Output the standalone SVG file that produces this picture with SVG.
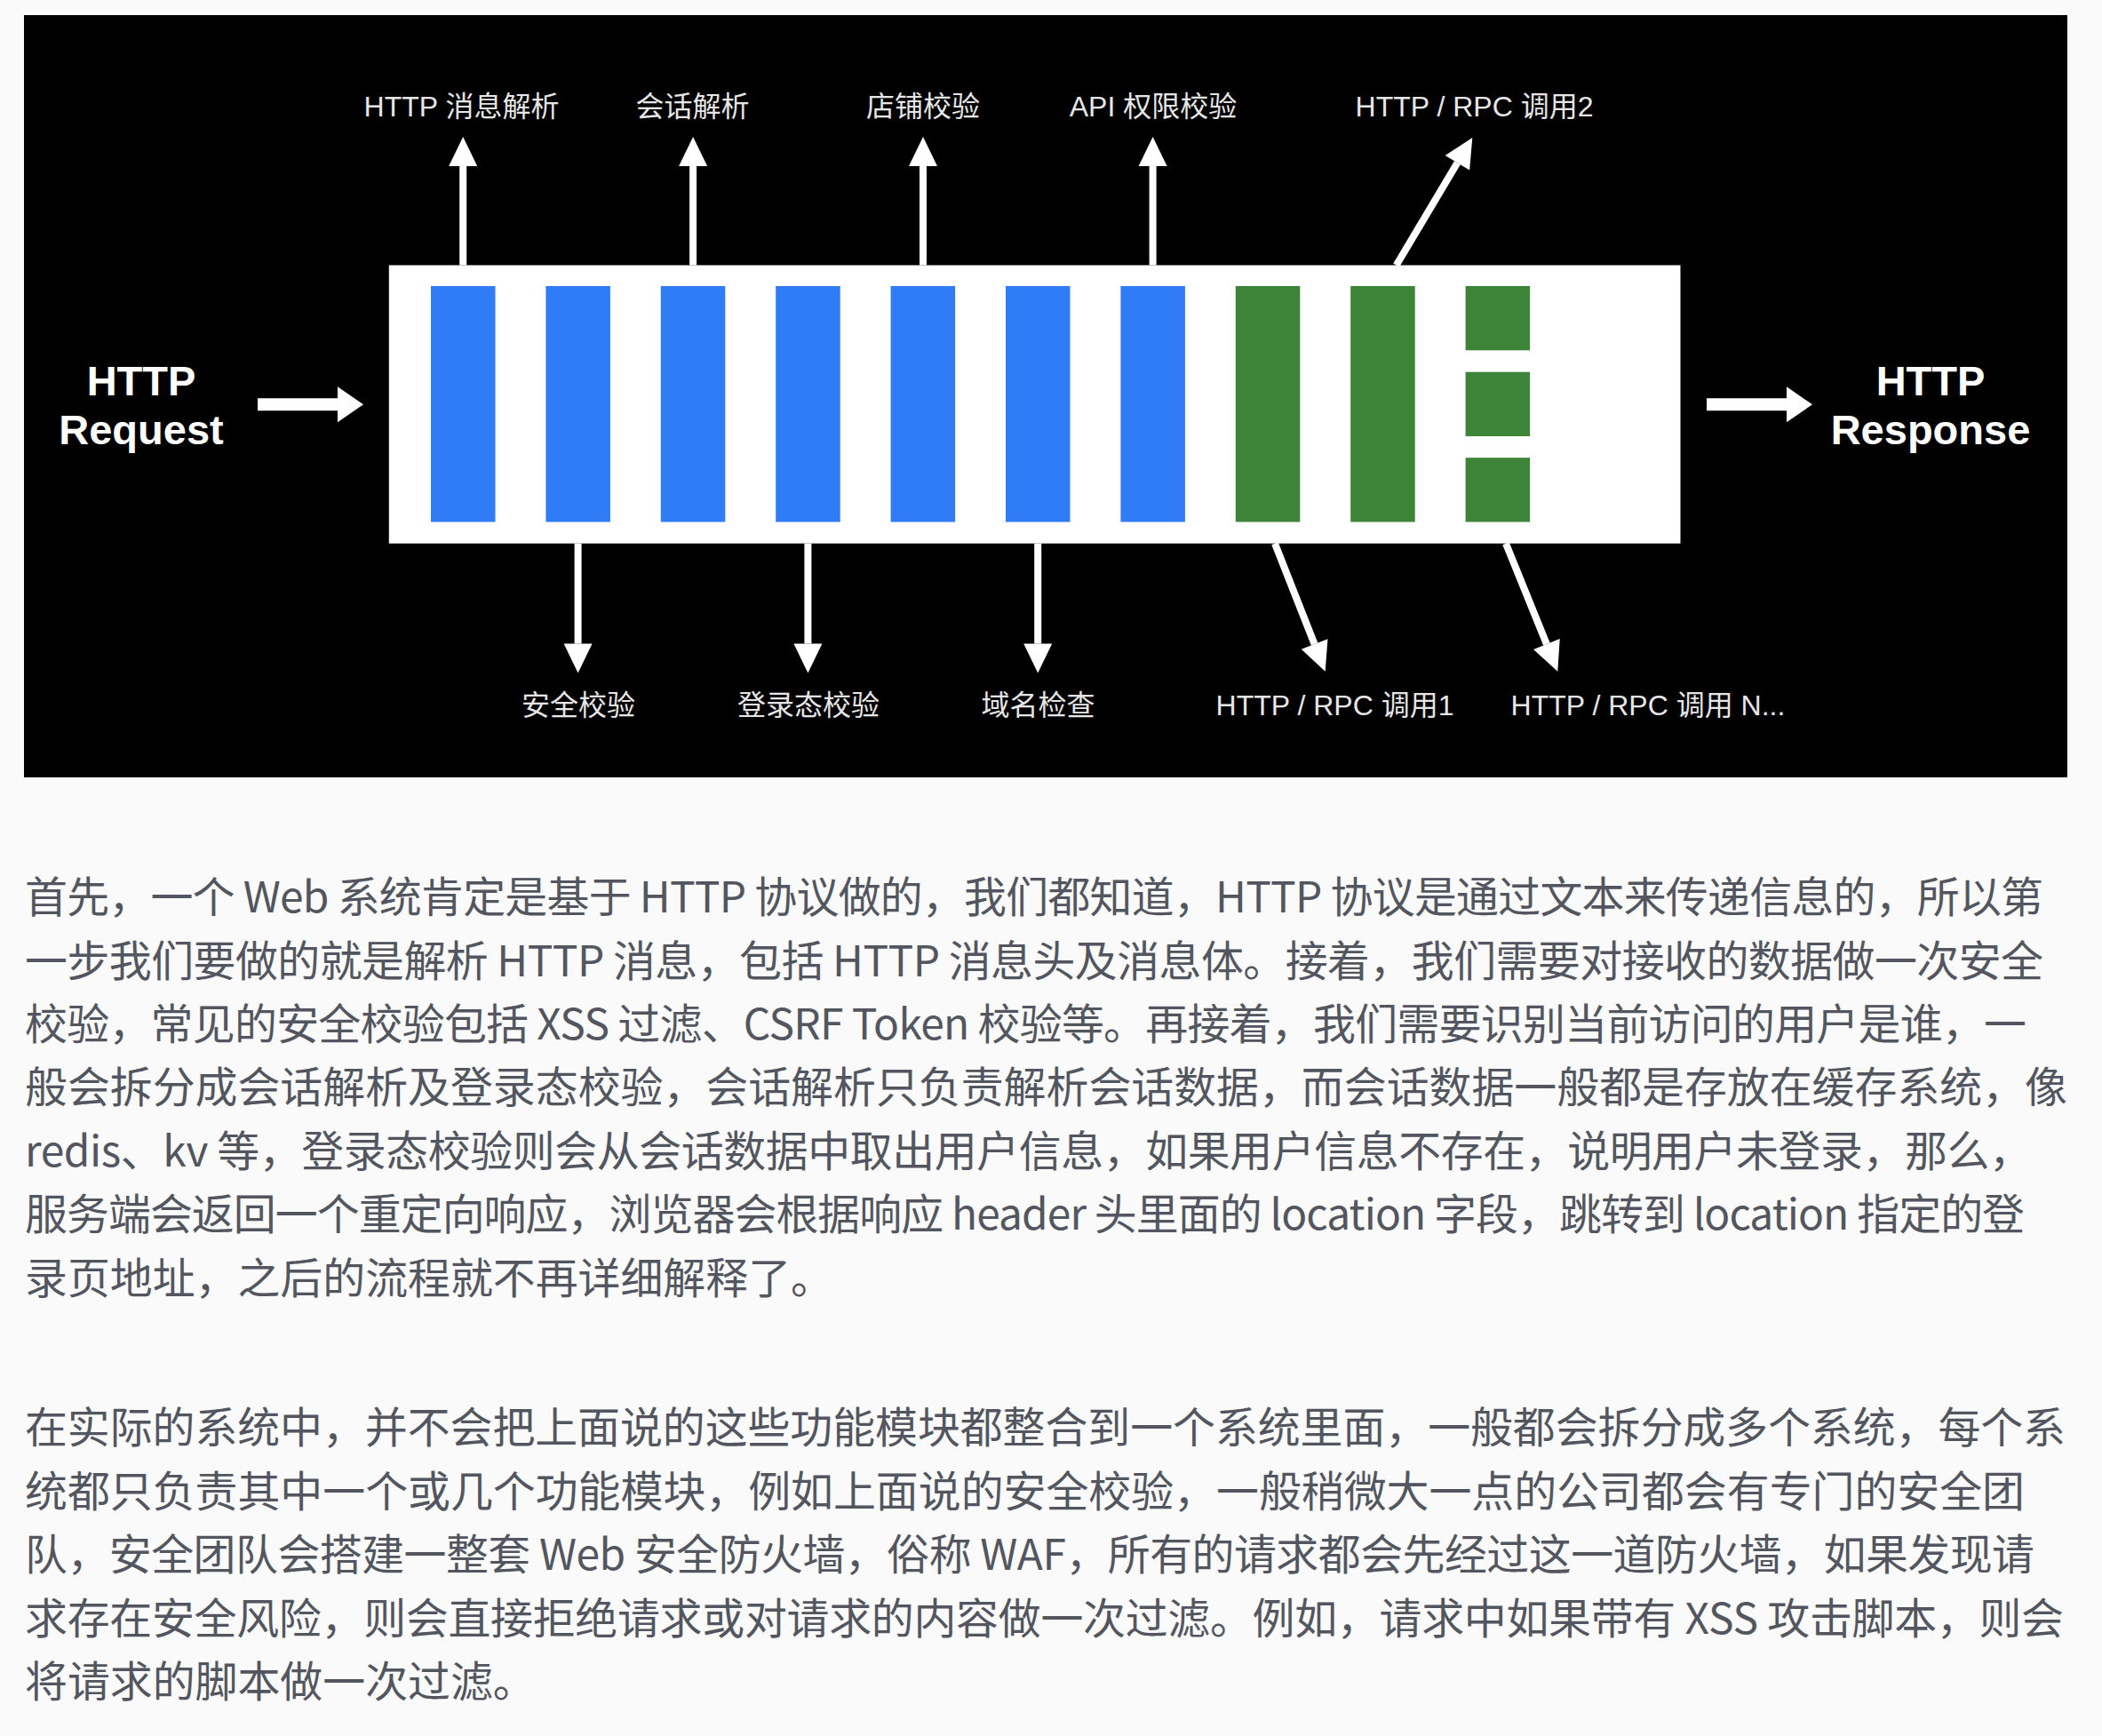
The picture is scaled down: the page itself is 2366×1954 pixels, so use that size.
<svg xmlns="http://www.w3.org/2000/svg" width="2366" height="1954" viewBox="0 0 2366 1954">
<defs>
<style>
.lbl{font-family:"Liberation Sans","Noto Sans CJK SC",sans-serif;font-size:32px;fill:#e6e6e6;text-anchor:middle}
.big{font-family:"Liberation Sans","Noto Sans CJK SC",sans-serif;font-size:47px;font-weight:bold;fill:#ffffff;text-anchor:middle}
.blue{fill:#2f7cf6}
.green{fill:#3d8439}
.thin{stroke:#ffffff;stroke-width:8;fill:none;marker-end:url(#ah)}
.thick{stroke:#ffffff;stroke-width:14;fill:none;marker-end:url(#ahb)}
.p{font-family:"Noto Sans CJK SC","Noto Sans",sans-serif;font-size:47.9px;fill:#53565f}
</style>
<marker id="ah" markerUnits="userSpaceOnUse" markerWidth="36" markerHeight="36" viewBox="0 -18 36 36" refX="0" refY="0" orient="auto" overflow="visible"><path d="M0,-16 L33,0 L0,16 z" fill="#ffffff"/></marker>
<marker id="ahb" markerUnits="userSpaceOnUse" markerWidth="32" markerHeight="44" viewBox="0 -22 32 44" refX="1" refY="0" orient="auto" overflow="visible"><path d="M0,-20 L29,0 L0,20 z" fill="#ffffff"/></marker>
</defs>
<rect width="2366" height="1954" fill="#fafafa"/>
<g id="frame"><rect x="27" y="17" width="2300" height="858" fill="#000000"/></g>
<g id="pipeline"><rect x="437.8" y="298.5" width="1453.7" height="313.2" fill="#ffffff"/></g>
<g id="stage-1"><rect class="blue" x="485" y="322" width="72.5" height="265.5"/></g>
<g id="stage-2"><rect class="blue" x="614.4" y="322" width="72.5" height="265.5"/></g>
<g id="stage-3"><rect class="blue" x="743.8" y="322" width="72.5" height="265.5"/></g>
<g id="stage-4"><rect class="blue" x="873.2" y="322" width="72.5" height="265.5"/></g>
<g id="stage-5"><rect class="blue" x="1002.6" y="322" width="72.5" height="265.5"/></g>
<g id="stage-6"><rect class="blue" x="1132" y="322" width="72.5" height="265.5"/></g>
<g id="stage-7"><rect class="blue" x="1261.4" y="322" width="72.5" height="265.5"/></g>
<g id="stage-8"><rect class="green" x="1390.8" y="322" width="72.5" height="265.5"/></g>
<g id="stage-9"><rect class="green" x="1520.2" y="322" width="72.5" height="265.5"/></g>
<g id="stage-10">
<rect class="green" x="1649.6" y="322" width="72.5" height="72.3"/>
<rect class="green" x="1649.6" y="418.7" width="72.5" height="72.3"/>
<rect class="green" x="1649.6" y="515.2" width="72.5" height="72.3"/>
</g>
<g id="node-request"><text class="big" x="159" y="445">HTTP</text><text class="big" x="159" y="500">Request</text></g>
<g id="node-response"><text class="big" x="2173" y="445">HTTP</text><text class="big" x="2173" y="500">Response</text></g>
<g id="out-http-parse"><text class="lbl" x="519.5" y="131">HTTP 消息解析</text></g>
<g id="out-session-parse"><text class="lbl" x="779.5" y="131">会话解析</text></g>
<g id="out-shop-check"><text class="lbl" x="1039" y="131">店铺校验</text></g>
<g id="out-api-auth"><text class="lbl" x="1298" y="131">API 权限校验</text></g>
<g id="out-rpc-2"><text class="lbl" x="1659.5" y="131">HTTP / RPC 调用2</text></g>
<g id="out-security"><text class="lbl" x="651" y="805">安全校验</text></g>
<g id="out-login"><text class="lbl" x="910" y="805">登录态校验</text></g>
<g id="out-domain"><text class="lbl" x="1168.5" y="805">域名检查</text></g>
<g id="out-rpc-1"><text class="lbl" x="1502.5" y="805">HTTP / RPC 调用1</text></g>
<g id="out-rpc-n"><text class="lbl" x="1855" y="805">HTTP / RPC 调用 N...</text></g>
<g id="connectors">
<line class="thick" x1="290" y1="455.3" x2="381" y2="455.3"/>
<line class="thick" x1="1921" y1="455.3" x2="2012" y2="455.3"/>
<line class="thin" x1="521.2" y1="298.5" x2="521.2" y2="187"/>
<line class="thin" x1="780.1" y1="298.5" x2="780.1" y2="187"/>
<line class="thin" x1="1039" y1="298.5" x2="1039" y2="187"/>
<line class="thin" x1="1297.6" y1="298.5" x2="1297.6" y2="187"/>
<line class="thin" x1="1571.7" y1="298.5" x2="1640.4" y2="183.3"/>
<line class="thin" x1="650.6" y1="611.7" x2="650.6" y2="724.6"/>
<line class="thin" x1="909.4" y1="611.7" x2="909.4" y2="724.6"/>
<line class="thin" x1="1168.2" y1="611.7" x2="1168.2" y2="724.6"/>
<line class="thin" x1="1435" y1="611.7" x2="1479.6" y2="725"/>
<line class="thin" x1="1695" y1="611.7" x2="1740.9" y2="725.1"/>
</g>
<g id="article">
<text class="p" x="28" y="1027" textLength="2272" lengthAdjust="spacing">首先，一个 Web 系统肯定是基于 HTTP 协议做的，我们都知道，HTTP 协议是通过文本来传递信息的，所以第</text>
<text class="p" x="28" y="1098.5" textLength="2272" lengthAdjust="spacing">一步我们要做的就是解析 HTTP 消息，包括 HTTP 消息头及消息体。接着，我们需要对接收的数据做一次安全</text>
<text class="p" x="28" y="1170" textLength="2253" lengthAdjust="spacing">校验，常见的安全校验包括 XSS 过滤、CSRF Token 校验等。再接着，我们需要识别当前访问的用户是谁，一</text>
<text class="p" x="28" y="1241.4" textLength="2299" lengthAdjust="spacing">般会拆分成会话解析及登录态校验，会话解析只负责解析会话数据，而会话数据一般都是存放在缓存系统，像</text>
<text class="p" x="28" y="1312.8" textLength="2259" lengthAdjust="spacing">redis、kv 等，登录态校验则会从会话数据中取出用户信息，如果用户信息不存在，说明用户未登录，那么，</text>
<text class="p" x="28" y="1384.3" textLength="2251" lengthAdjust="spacing">服务端会返回一个重定向响应，浏览器会根据响应 header 头里面的 location 字段，跳转到 location 指定的登</text>
<text class="p" x="28" y="1455.7">录页地址，之后的流程就不再详细解释了。</text>
<text class="p" x="28" y="1624.4" textLength="2297" lengthAdjust="spacing">在实际的系统中，并不会把上面说的这些功能模块都整合到一个系统里面，一般都会拆分成多个系统，每个系</text>
<text class="p" x="28" y="1695.9" textLength="2251" lengthAdjust="spacing">统都只负责其中一个或几个功能模块，例如上面说的安全校验，一般稍微大一点的公司都会有专门的安全团</text>
<text class="p" x="28" y="1767.3" textLength="2262" lengthAdjust="spacing">队，安全团队会搭建一整套 Web 安全防火墙，俗称 WAF，所有的请求都会先经过这一道防火墙，如果发现请</text>
<text class="p" x="28" y="1838.8" textLength="2295" lengthAdjust="spacing">求存在安全风险，则会直接拒绝请求或对请求的内容做一次过滤。例如，请求中如果带有 XSS 攻击脚本，则会</text>
<text class="p" x="28" y="1910.2">将请求的脚本做一次过滤。</text>
</g>
</svg>
